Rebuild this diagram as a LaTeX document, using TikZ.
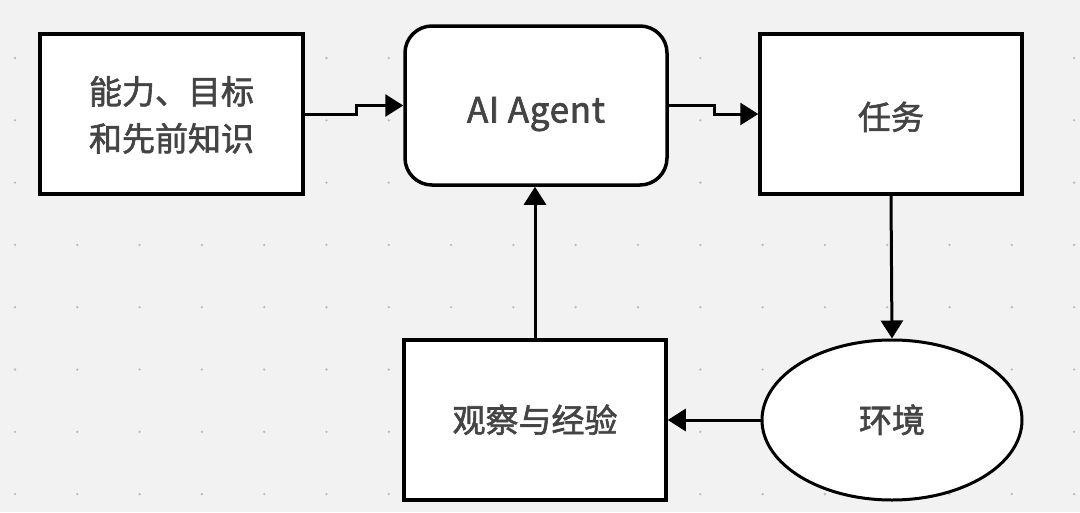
\documentclass[tikz,border=0pt]{standalone}
\usepackage{fontspec}
\newfontfamily\cjk[FakeBold=1.8]{Noto Sans CJK SC}
\newfontfamily\cjkwide[FakeBold=1.8,LetterSpace=2]{Noto Sans CJK SC}
\usetikzlibrary{arrows.meta,shapes.geometric}
\definecolor{bgc}{HTML}{F2F2F2}
\definecolor{txt}{HTML}{444444}
\definecolor{dotc}{HTML}{BBBBBB}
\newcommand{\lowertxt}[2][4pt]{\raisebox{-#1}[\dimexpr\height+#1\relax][\dimexpr\depth+#1\relax]{\begin{tabular}{@{}c@{}}#2\end{tabular}}}
\tikzset{
  box/.style={draw=black, fill=white, line width=3.5pt, minimum width=263pt, minimum height=160pt, inner sep=0pt, text=txt, font=\cjk\fontsize{33}{47}\selectfont, align=center},
  rbox/.style={box, rounded corners=27pt},
  ell/.style={box, ellipse, minimum width=260pt, minimum height=160pt, line width=3pt},
  conn/.style={draw=black, line width=3pt, -{Triangle[length=18pt,width=22pt]}},
}
\begin{document}
\begin{tikzpicture}[x=1pt,y=-1pt]
\useasboundingbox (0,0) rectangle (1080,512);
\fill[bgc] (0,0) rectangle (1080,512);
\foreach \i in {0,...,17} {
  \foreach \j in {0,...,7} {
    \fill[dotc] ({15+62.3*\i},{58+62.3*\j}) circle (1.3pt);
  }
}
\node[box] (b1) at (171.5,114) {\lowertxt[4pt]{能力、目标\\和先前知识}};
\node[rbox, minimum width=262pt, minimum height=159pt, font=\cjkwide\fontsize{35}{40}\selectfont] (agent) at (536,105.5) {\lowertxt[9pt]{AI Agent}};
\node[box, minimum width=262pt] (task) at (891,114) {\lowertxt[6pt]{任务}};
\node[box, minimum width=262pt] (obs) at (535,420) {\lowertxt[3pt]{观察与经验}};
\node[ell] (env) at (892,420) {\lowertxt[3pt]{环境}};
\draw[conn] (b1.east) -- ++(52,0) |- (agent.west);
\draw[conn] (agent.east) -- ++(46,0) |- (task.west);
\draw[conn] (task.south) -- (env.north);
\draw[conn] (env.west) -- (obs.east);
\draw[conn] (obs.north) -- (obs.north |- agent.south);
\end{tikzpicture}
\end{document}
